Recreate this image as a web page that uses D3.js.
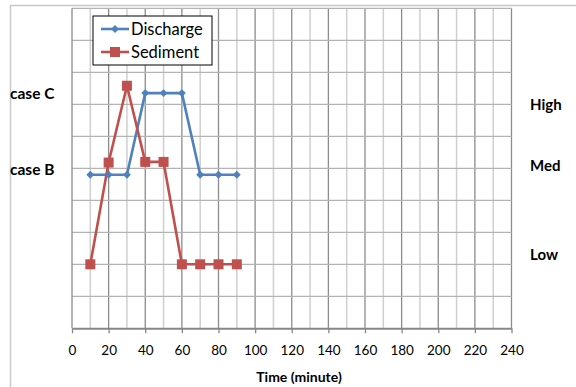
<!DOCTYPE html>
<html><head><meta charset="utf-8">
<script src="https://d3js.org/d3.v7.min.js"></script>
<style>body{margin:0;background:#fff;} svg{display:block;font-family:Lato,"Open Sans",sans-serif;}</style>
</head><body>
<svg id="c" width="576" height="387"></svg>
<script>
const times = [10,20,30,40,50,60,70,80,90];
const discharge = [4.8,4.8,4.8,7.35,7.35,7.35,4.8,4.8,4.8];
const sediment = [2.0,5.18,7.58,5.2,5.2,2.0,2.0,2.0,2.0];
const xTicks = [0,20,40,60,80,100,120,140,160,180,200,220,240];
const leftLabels = [{t:"case C",v:7.35},{t:"case B",v:4.95}];
const rightLabels = [{t:"High",v:7.0},{t:"Med",v:5.1},{t:"Low",v:2.3}];
const seriesNames = ["Discharge","Sediment"];
const colors = ["#4F81BD","#C0504D"];

const svg = d3.select("#c");
const x = d3.scaleLinear().domain([0,240]).range([72,511.5]);
const y = d3.scaleLinear().domain([0,10]).range([328.3,8.3]);

// outer chart border
svg.append("rect").attr("x",10.5).attr("y",5.5).attr("width",600).attr("height",400)
  .attr("fill","none").attr("stroke","#c8c8c8").attr("stroke-width",1.5);

// vertical grid
const g = svg.append("g");
d3.range(10,241,10).forEach(v=>{
  const major = v%20===0;
  g.append("line").attr("x1",x(v)).attr("x2",x(v)).attr("y1",y(10)).attr("y2",y(0))
    .attr("stroke",major?"#8c8c8c":"#cfcfcf").attr("stroke-width",major?1.3:1.5);
});
// horizontal grid
d3.range(1,11,1).forEach(v=>{
  g.append("line").attr("x1",x(0)).attr("x2",x(240)).attr("y1",y(v)).attr("y2",y(v))
    .attr("stroke","#b4b4b4").attr("stroke-width",1.3);
});
// left axis line
g.append("line").attr("x1",x(0)).attr("x2",x(0)).attr("y1",y(10)).attr("y2",y(0))
  .attr("stroke","#8c8c8c").attr("stroke-width",1.3);

// x axis
const xa = svg.append("g").attr("transform",`translate(0,${y(0)})`)
  .call(d3.axisBottom(x).tickValues(xTicks).tickSize(5).tickSizeOuter(0).tickPadding(12));
xa.select(".domain").attr("stroke","#878787").attr("stroke-width",2);
xa.selectAll(".tick line").attr("stroke","#878787").attr("stroke-width",1.3);
xa.selectAll("text").attr("font-size",13.5).attr("fill","#000").attr("font-family","Lato,sans-serif");

svg.append("text").attr("x",299).attr("y",382).attr("text-anchor","middle")
  .attr("font-size",14).attr("font-weight","bold").text("Time (minute)");

// lines
const line = d3.line().x((d,i)=>x(times[i])).y(d=>y(d));
[discharge,sediment].forEach((s,k)=>{
  svg.append("path").datum(s).attr("d",line).attr("fill","none")
    .attr("stroke",colors[k]).attr("stroke-width",2.6).attr("stroke-linejoin","round");
});
// markers
const diamond = d3.symbol(d3.symbolDiamond2 ? d3.symbolDiamond2 : d3.symbolDiamond, 40)();
svg.selectAll(".dm").data(discharge).join("path")
  .attr("transform",(d,i)=>`translate(${x(times[i])},${y(d)})`)
  .attr("d",diamond).attr("fill",colors[0]);
svg.selectAll(".sm").data(sediment).join("rect")
  .attr("x",(d,i)=>x(times[i])-5).attr("y",d=>y(d)-5).attr("width",10).attr("height",10)
  .attr("fill",colors[1]);

// legend
const lg = svg.append("g");
lg.append("rect").attr("x",93).attr("y",16).attr("width",119).attr("height",49)
  .attr("fill","#fff").attr("stroke","#000").attr("stroke-width",1);
seriesNames.forEach((n,k)=>{
  const yy = 29 + k*23;
  lg.append("line").attr("x1",101).attr("x2",129).attr("y1",yy).attr("y2",yy)
    .attr("stroke",colors[k]).attr("stroke-width",2.6);
  if(k===0) lg.append("path").attr("transform",`translate(115,${yy})`)
    .attr("d",diamond).attr("fill",colors[0]);
  else lg.append("rect").attr("x",110).attr("y",yy-5).attr("width",10).attr("height",10).attr("fill",colors[1]);
  lg.append("text").attr("x",131).attr("y",yy+6).attr("font-size",16.5).text(n);
});

// side labels
leftLabels.forEach(l=>{
  svg.append("text").attr("x",10).attr("y",y(l.v)+5.5).attr("font-size",15.5)
    .attr("font-weight","bold").text(l.t);
});
rightLabels.forEach(l=>{
  svg.append("text").attr("x",530).attr("y",y(l.v)+5.5).attr("font-size",15)
    .attr("font-weight","bold").text(l.t);
});
</script>
</body></html>
